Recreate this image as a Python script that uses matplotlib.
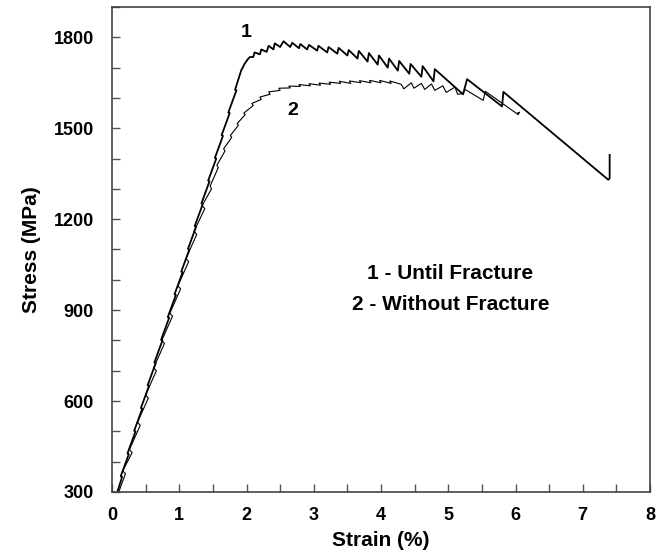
import matplotlib
matplotlib.use("Agg")
import matplotlib.pyplot as plt
from matplotlib.ticker import MultipleLocator

plt.rcParams['font.family'] = ['Liberation Sans', 'DejaVu Sans']

# Curve 1 - Until Fracture (strain %, stress MPa)
strain1 = [0.08, 0.15, 0.13, 0.25, 0.23, 0.35, 0.33, 0.45, 0.43, 0.55, 0.53, 0.65, 0.63,
           0.75, 0.73, 0.85, 0.83, 0.95, 0.93, 1.05, 1.03, 1.15, 1.13, 1.25, 1.23, 1.35, 1.33,
           1.45, 1.43, 1.55, 1.53, 1.65, 1.63, 1.75, 1.73, 1.85, 1.83, 1.92, 1.97, 2.02, 2.05,
           2.10, 2.12, 2.20, 2.22, 2.30, 2.33, 2.40, 2.42, 2.50, 2.55, 2.65, 2.68, 2.78, 2.80,
           2.90, 2.93, 3.05, 3.07, 3.20, 3.22, 3.35, 3.37, 3.50, 3.52, 3.65, 3.67, 3.80, 3.82,
           3.95, 3.97, 4.10, 4.12, 4.25, 4.27, 4.42, 4.44, 4.60, 4.62, 4.78, 4.80, 5.22, 5.28,
           5.80, 5.82, 7.38, 7.40, 7.40]
stress1 = [300, 350, 352, 425, 427, 500, 502, 575, 577, 650, 652, 725, 727,
           800, 802, 875, 877, 950, 952, 1025, 1027, 1100, 1102, 1175, 1177, 1250, 1252,
           1325, 1327, 1400, 1402, 1475, 1477, 1550, 1552, 1625, 1627, 1690, 1712, 1728, 1735,
           1735, 1750, 1744, 1760, 1752, 1772, 1760, 1780, 1768, 1787, 1768, 1782, 1764, 1778,
           1760, 1775, 1756, 1772, 1750, 1768, 1746, 1765, 1740, 1758, 1730, 1755, 1720, 1748,
           1710, 1740, 1700, 1730, 1690, 1722, 1680, 1712, 1670, 1705, 1655, 1695, 1612, 1662,
           1572, 1620, 1330, 1335, 1412]

# Curve 2 - Without Fracture
strain2 = [0.10, 0.20, 0.16, 0.30, 0.26, 0.42, 0.38, 0.54, 0.50, 0.66, 0.62, 0.78, 0.74,
           0.90, 0.86, 1.02, 0.98, 1.14, 1.10, 1.26, 1.22, 1.38, 1.34, 1.48, 1.46, 1.58, 1.56,
           1.68, 1.66, 1.78, 1.76, 1.88, 1.86, 1.98, 1.96, 2.10, 2.08, 2.22, 2.20, 2.35, 2.33,
           2.50, 2.48, 2.65, 2.63, 2.80, 2.78, 2.95, 2.93, 3.10, 3.08, 3.25, 3.23, 3.40, 3.38,
           3.55, 3.53, 3.70, 3.68, 3.85, 3.83, 4.00, 3.98, 4.15, 4.13, 4.30, 4.34, 4.45, 4.49,
           4.60, 4.65, 4.75, 4.80, 4.92, 4.97, 5.10, 5.14, 5.22, 5.25, 5.52, 5.55, 6.04, 6.06,
           6.03]
stress2 = [300, 360, 370, 430, 440, 520, 530, 610, 620, 700, 710, 790, 800,
           880, 890, 970, 980, 1060, 1070, 1150, 1160, 1235, 1245, 1300, 1310, 1370, 1378,
           1425, 1432, 1470, 1476, 1510, 1515, 1545, 1550, 1575, 1582, 1595, 1603, 1612, 1620,
           1625, 1632, 1633, 1639, 1638, 1644, 1640, 1647, 1642, 1649, 1645, 1652, 1648, 1655,
           1648, 1656, 1650, 1657, 1650, 1658, 1650, 1658, 1648, 1656, 1645, 1630, 1650, 1632,
           1648, 1628, 1646, 1625, 1640, 1618, 1636, 1612, 1615, 1628, 1592, 1622, 1545, 1553,
           1550]

# Axis ticks
xticks = [0, 1, 2, 3, 4, 5, 6, 7, 8]
yticks = [300, 600, 900, 1200, 1500, 1800]

fig = plt.figure(figsize=(6.64, 5.56), dpi=100)
ax = fig.add_axes([112/664, 64/556, 538/664, 485/556])

ax.plot(strain1, stress1, color='black', lw=1.3)
ax.plot(strain2, stress2, color='black', lw=0.8)

ax.set_xlim(0, 8)
ax.set_ylim(300, 1900)
ax.set_xticks(xticks)
ax.set_yticks(yticks)
ax.xaxis.set_minor_locator(MultipleLocator(0.5))
ax.yaxis.set_minor_locator(MultipleLocator(100))
ax.tick_params(which='both', direction='in', length=6, width=1, color='#555555',
               top=False, right=False)
ax.tick_params(axis='x', which='major', labelsize=13, pad=11)
ax.tick_params(axis='y', which='major', labelsize=13, pad=13)
for lab in ax.get_xticklabels() + ax.get_yticklabels():
    lab.set_fontweight('bold')
for s in ax.spines.values():
    s.set_color('#444444')
    s.set_linewidth(1.2)

ax.set_xlabel('Strain (%)', fontsize=15, fontweight='bold', labelpad=5)
ax.set_ylabel('Stress (MPa)', fontsize=15, fontweight='bold', labelpad=9)

ax.text(1.99, 1815, '1', fontsize=14, fontweight='bold', ha='center', va='center')
ax.text(2.69, 1560, '2', fontsize=14, fontweight='bold', ha='center', va='center')
ax.text(5.03, 1022, '1 - Until Fracture', fontsize=15, fontweight='bold', ha='center', va='center')
ax.text(5.03, 917, '2 - Without Fracture', fontsize=15, fontweight='bold', ha='center', va='center')

fig.savefig('out.png', dpi=100)
